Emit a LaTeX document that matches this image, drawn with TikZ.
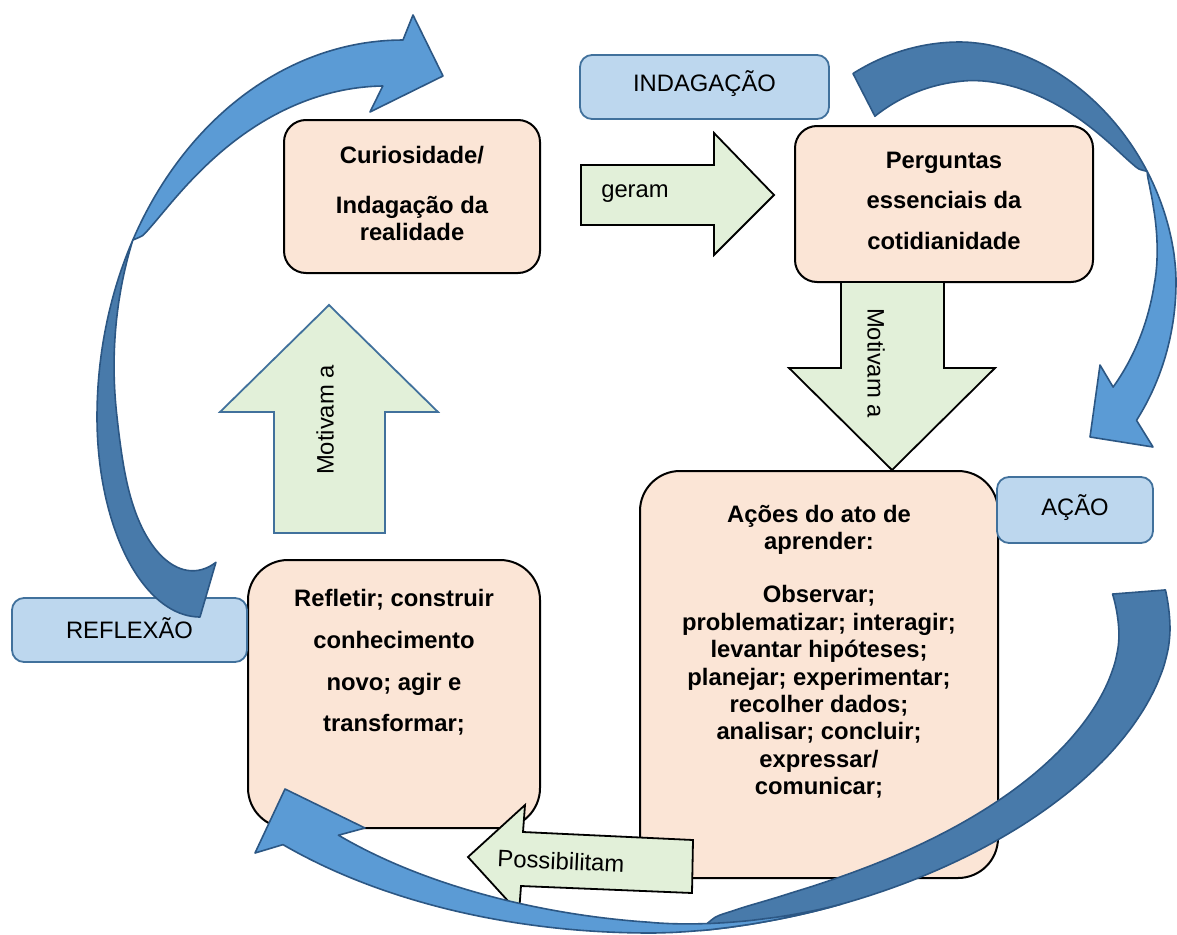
\documentclass[tikz,border=0pt]{standalone}
\usepackage{fontspec}
\setmainfont{Liberation Sans}
\definecolor{boxpink}{HTML}{FBE5D6}
\definecolor{arrowgreen}{HTML}{E2F0D9}
\definecolor{labelblue}{HTML}{BDD7EE}
\definecolor{labeledge}{HTML}{41719C}
\definecolor{bandlight}{HTML}{5B9BD5}
\definecolor{banddark}{HTML}{487AAA}
\definecolor{bandedge}{HTML}{2C5784}
\begin{document}
\begin{tikzpicture}[x=1pt,y=-1pt,
  pinkbox/.style={draw=black, line width=2pt, fill=boxpink, rounded corners=#1, inner sep=0pt},
  pinkbox/.default=22pt,
  labelbox/.style={draw=labeledge, line width=1.8pt, fill=labelblue, rounded corners=12pt, inner sep=0pt},
  blockarrow/.style={draw=black, line width=1.8pt, fill=arrowgreen, line join=miter},
  bandlightstyle/.style={fill=bandlight, draw=bandedge, line width=1.6pt, line join=round},
  banddarkstyle/.style={fill=banddark, draw=bandedge, line width=1.6pt, line join=round},
  txt/.style={font=\fontsize{23.8}{27.4}\selectfont, inner sep=0pt, anchor=base},
  btxt/.style={font=\fontsize{23.8}{27.4}\selectfont\bfseries, inner sep=0pt, anchor=base},
  rtxt/.style={font=\fontsize{23.8}{27.4}\selectfont, inner sep=0pt, anchor=center},
  band/.style={smooth, samples=40},
  declare function={
    % signed power, used for the squarish quarters of the rings
    spow(\qa,\qb)=((\qa)>=0 ? 1 : -1)*pow(max(abs(\qa),0.00001),\qb);
    % factor that pulls an edge point towards the ring centre by \qc
    shrink(\qa,\qb,\qc)=1-(\qc)/(100*veclen((\qa)/100,(\qb)/100));
    % left ring: upper and lower quarters
    aux(\qa)=306*cos(\qa);  auy(\qa)=377*sin(\qa);
    alx(\qa)=103*cos(\qa);  aly(\qa)=200*sin(\qa);
    wAl(\qa)=45*sqrt(max((\qa)-208,0)/57.7);
    wAu(\qa)=20*max(208-(\qa),0)/28;
    wAd(\qa)=20+0.3*(180-(\qa));
    % right ring
    bx(\qa,\qb)=216*spow(cos(\qa),\qb);  by(\qa,\qb)=240*spow(sin(\qa),\qb);
    wBl(\qa)=37.2*pow(max((\qa)+29,0.001)/60.7,0.75);
    wBd(\qa)=48*sqrt(max(-29-(\qa),0)/90.7);
    % bottom ring
    ccx(\qa,\qb)=520*spow(cos(\qa),\qb);  ccy(\qa,\qb)=303*spow(sin(\qa),\qb);
    wCl(\qa)=39.5*pow(max((\qa)-66,0.001)/65.5,1.3);
    wCd(\qa)=53*pow(max(83-(\qa),0.001)/90.6,0.4);
  }
]
\useasboundingbox (0,0) rectangle (1177,934);
\fill[white] (0,0) rectangle (1177,934);

% main boxes
\node[pinkbox, minimum width=256pt, minimum height=153pt] (curio) at (412,196.5) {};
\node[pinkbox, minimum width=298pt, minimum height=156pt] (perg) at (944,204) {};
\node[pinkbox=40pt, minimum width=358pt, minimum height=407pt] (acoes) at (819,674.5) {};
\node[pinkbox=40pt, minimum width=292pt, minimum height=268pt] (refl) at (394,694) {};

% stage labels
\node[labelbox, minimum width=249pt, minimum height=64pt] (indag) at (704.5,87) {};
\node[labelbox, minimum width=156pt, minimum height=66pt] (acao) at (1075,510) {};
\node[labelbox, minimum width=235pt, minimum height=64pt] (reflex) at (129.5,630) {};
\node[txt] (indag-t) at (704.5,92) {INDAGAÇÃO};
\node[txt] (acao-t) at (1075,515.5) {AÇÃO};
\node[txt] (reflex-t) at (129.5,638.5) {REFLEXÃO};

% box texts
\node[btxt] (curio-1) at (412,163) {Curiosidade/};
\node[btxt] (curio-2) at (412,213) {Indagação da};
\node[btxt] (curio-3) at (412,240) {realidade};

\node[btxt] (perg-1) at (944,168) {Perguntas};
\node[btxt] (perg-2) at (944,208.5) {essenciais da};
\node[btxt] (perg-3) at (944,249) {cotidianidade};

\node[btxt] (acoes-1) at (819,522) {Ações do ato de};
\node[btxt] (acoes-2) at (819,549.4) {aprender:};
\node[btxt] (acoes-3) at (819,602.8) {Observar;};
\node[btxt] (acoes-4) at (819,630.2) {problematizar; interagir;};
\node[btxt] (acoes-5) at (819,657.6) {levantar hipóteses;};
\node[btxt] (acoes-6) at (819,685) {planejar; experimentar;};
\node[btxt] (acoes-7) at (819,712.4) {recolher dados;};
\node[btxt] (acoes-8) at (819,739.8) {analisar; concluir;};
\node[btxt] (acoes-9) at (819,767.2) {expressar/};
\node[btxt] (acoes-10) at (819,794.6) {comunicar;};

\node[btxt] (refl-1) at (394,606) {Refletir; construir};
\node[btxt] (refl-2) at (394,648) {conhecimento};
\node[btxt] (refl-3) at (394,690) {novo; agir e};
\node[btxt] (refl-4) at (394,731) {transformar;};

% block arrows between the boxes
\draw[blockarrow] (581,165) -- (714,165) -- (714,133) -- (774,195) -- (714,255) -- (714,225) -- (581,225) -- cycle;
\node[txt] (geram) at (635,197) {geram};

\draw[blockarrow] (841,282) -- (944,282) -- (944,368) -- (995,368) -- (892,470) -- (789,368) -- (841,368) -- cycle;
\node[rtxt, rotate=-90] (motiva-down) at (876,363) {Motivam a};

\draw[blockarrow, draw=labeledge] (274,533) -- (274,412) -- (220,412) -- (329,305) -- (438,412) -- (385,412) -- (385,533) -- cycle;
\node[rtxt, rotate=90] (motiva-up) at (325,420) {Motivam a};

\draw[blockarrow] (693,840) -- (523,832) -- (525,805) -- (468,857) -- (519,913) -- (521,886) -- (692,893) -- cycle;
\node[rtxt, rotate=-2.7] (possib) at (561,861) {Possibilitam};

% ---- left ring: dark back face, then light front face with head
\draw[banddarkstyle]
  plot[band, domain=208:180] ({403+aux(\x)},{417+auy(\x)})
  -- plot[band, domain=180:90] ({200+alx(\x)},{417+aly(\x)})
  -- plot[band, domain=78:180] ({200+alx(\x)*shrink(alx(\x),aly(\x),wAd(\x))},{417+aly(\x)*shrink(alx(\x),aly(\x),wAd(\x))})
  -- plot[band, domain=180:208] ({403+aux(\x)*shrink(aux(\x),auy(\x),wAu(\x))},{417+auy(\x)*shrink(aux(\x),auy(\x),wAu(\x))})
  -- cycle;
\draw[bandlightstyle]
  plot[band, domain=208:270] ({403+aux(\x)},{417+auy(\x)})
  -- (413,15) -- (443,76) -- (370,112)
  -- plot[band, domain=265.7:208] ({403+aux(\x)*shrink(aux(\x),auy(\x),wAl(\x))},{417+auy(\x)*shrink(aux(\x),auy(\x),wAl(\x))})
  -- cycle;

% ---- right ring
\draw[banddarkstyle]
  plot[band, domain=-119.7:-90] ({960+bx(\x,1)},{282+by(\x,1)})
  -- plot[band, domain=-90:-29] ({960+bx(\x,1.07)},{282+by(\x,1.07)})
  -- plot[band, domain=-29:-90] ({960+bx(\x,1.07)*shrink(bx(\x,1.07),by(\x,1.07),wBd(\x))},{282+by(\x,1.07)*shrink(bx(\x,1.07),by(\x,1.07),wBd(\x))})
  -- plot[band, domain=-90:-119.7] ({960+bx(\x,1)*shrink(bx(\x,1),by(\x,1),wBd(\x))},{282+by(\x,1)*shrink(bx(\x,1),by(\x,1),wBd(\x))})
  -- cycle;
\draw[bandlightstyle]
  plot[band, domain=-29:0] ({960+bx(\x,1.07)},{282+by(\x,1.07)})
  -- plot[band, domain=0:35.2] ({960+bx(\x,1)},{282+by(\x,1)})
  -- (1153,447) -- (1090,437) -- (1100,365)
  -- plot[band, domain=31.7:0] ({960+bx(\x,1)*shrink(bx(\x,1),by(\x,1),wBl(\x))},{282+by(\x,1)*shrink(bx(\x,1),by(\x,1),wBl(\x))})
  -- plot[band, domain=0:-29] ({960+bx(\x,1.07)*shrink(bx(\x,1.07),by(\x,1.07),wBl(\x))},{282+by(\x,1.07)*shrink(bx(\x,1.07),by(\x,1.07),wBl(\x))})
  -- cycle;

% ---- bottom ring
\draw[banddarkstyle]
  plot[band, domain=-7.6:0] ({650+ccx(\x,1)},{630+ccy(\x,1)})
  -- plot[band, domain=0:83] ({650+ccx(\x,1.11)},{630+ccy(\x,1.11)})
  -- plot[band, domain=83:0] ({650+ccx(\x,1.11)*shrink(ccx(\x,1.11),ccy(\x,1.11),wCd(\x))},{630+ccy(\x,1.11)*shrink(ccx(\x,1.11),ccy(\x,1.11),wCd(\x))})
  -- plot[band, domain=0:-7.6] ({650+ccx(\x,1)*shrink(ccx(\x,1),ccy(\x,1),wCd(\x))},{630+ccy(\x,1)*shrink(ccx(\x,1),ccy(\x,1),wCd(\x))})
  -- cycle;
\draw[bandlightstyle]
  plot[band, domain=66:90] ({650+ccx(\x,1.11)},{630+ccy(\x,1.11)})
  -- plot[band, domain=90:134.9] ({650+ccx(\x,1)},{630+ccy(\x,1)})
  -- (255,853) -- (285,789) -- (365,828)
  -- plot[band, domain=131.5:90] ({650+ccx(\x,1)*shrink(ccx(\x,1),ccy(\x,1),wCl(\x))},{630+ccy(\x,1)*shrink(ccx(\x,1),ccy(\x,1),wCl(\x))})
  -- plot[band, domain=90:66] ({650+ccx(\x,1.11)*shrink(ccx(\x,1.11),ccy(\x,1.11),wCl(\x))},{630+ccy(\x,1.11)*shrink(ccx(\x,1.11),ccy(\x,1.11),wCl(\x))})
  -- cycle;
\end{tikzpicture}
\end{document}
